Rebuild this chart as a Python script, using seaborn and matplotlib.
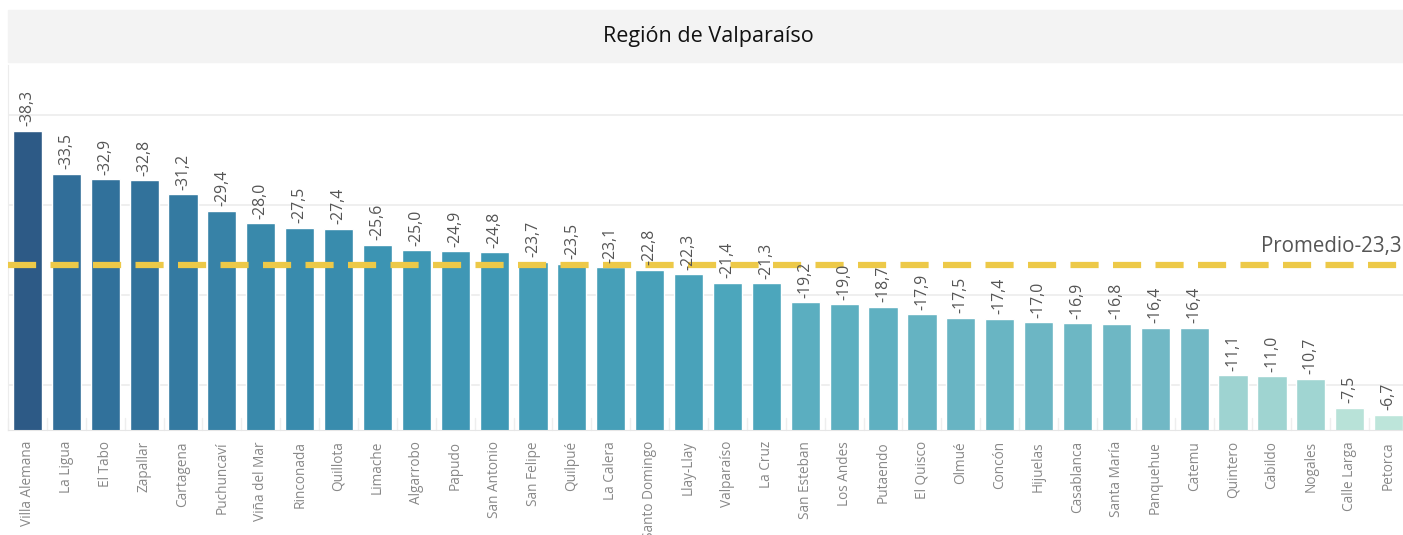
import numpy as np
import pandas as pd
import seaborn as sns
import matplotlib.pyplot as plt
from matplotlib.colors import LinearSegmentedColormap
from matplotlib.patches import Rectangle

comunas = ["Villa Alemana", "La Ligua", "El Tabo", "Zapallar", "Cartagena", "Puchuncaví",
           "Viña del Mar", "Rinconada", "Quillota", "Limache", "Algarrobo", "Papudo",
           "San Antonio", "San Felipe", "Quilpué", "La Calera", "Santo Domingo", "Llay-Llay",
           "Valparaíso", "La Cruz", "San Esteban", "Los Andes", "Putaendo", "El Quisco",
           "Olmué", "Concón", "Hijuelas", "Casablanca", "Santa María", "Panquehue",
           "Catemu", "Quintero", "Cabildo", "Nogales", "Calle Larga", "Petorca"]
valores = [-38.3, -33.5, -32.9, -32.8, -31.2, -29.4, -28.0, -27.5, -27.4, -25.6, -25.0, -24.9,
           -24.8, -23.7, -23.5, -23.1, -22.8, -22.3, -21.4, -21.3, -19.2, -19.0, -18.7, -17.9,
           -17.5, -17.4, -17.0, -16.9, -16.8, -16.4, -16.4, -11.1, -11.0, -10.7, -7.5, -6.7]
promedio = -23.3

df = pd.DataFrame({"comuna": comunas, "valor": valores})

sns.set_style("white")
plt.rcParams["font.family"] = ["Open Sans", "DejaVu Sans"]

# color ramp similar to Tableau blue-teal
cmap = LinearSegmentedColormap.from_list("bt", [
    (0.0, "#bde5da"), (0.14, "#9dd3d1"), (0.30, "#72b9c5"),
    (0.45, "#4ea8bd"), (0.60, "#3c94b3"), (0.84, "#31709a"), (1.0, "#2d5a86")])
vmin, vmax = 6.7, 38.3
colores = [cmap((abs(v) - vmin) / (vmax - vmin)) for v in valores]

fig = plt.figure(figsize=(14.03, 5.35), dpi=100)

# header band
fig.patches.append(Rectangle((8 / 1403, 1 - 62 / 535), 1, 52 / 535,
                             transform=fig.transFigure, color="#f3f3f3", zorder=0))
fig.text(708 / 1403, 1 - 37 / 535, "Región de Valparaíso", ha="center", va="center",
         fontsize=15.5, color="#111111")

ax = fig.add_axes([8 / 1403, 1 - 430 / 535, 1395 / 1403, 365 / 535])
sns.barplot(data=df, x="comuna", y="valor", hue="comuna", palette=colores,
            saturation=1, legend=False, width=0.75, ax=ax, zorder=2)

ax.set_ylim(-5, -45.6)
ax.set_xlim(-0.5, 35.37)
ax.set_yticks([-10, -20, -30, -40])
ax.set_yticklabels([])
ax.tick_params(axis="y", length=0)
ax.yaxis.grid(True, color="#ececec", linewidth=1.2, zorder=0)

for s in ["top", "right"]:
    ax.spines[s].set_visible(False)
ax.spines["left"].set_color("#ececec")
ax.spines["bottom"].set_color("#e6e6e6")

ax.set_xlabel("")
ax.set_ylabel("")
ax.set_xticks(range(len(comunas)))
ax.set_xticklabels(comunas, rotation=90, fontsize=9.8, color="#888888")
ax.tick_params(axis="x", length=0, pad=8)
for i in range(len(comunas) + 1):
    ax.plot([i - 0.5, i - 0.5], [0, 0.032], transform=ax.get_xaxis_transform(),
            color="#eeeeee", lw=1, clip_on=False)

for i, v in enumerate(valores):
    ax.text(i, v - 0.5, f"{v:.1f}".replace(".", ","), rotation=90, ha="center",
            va="bottom", fontsize=11.3, color="#555555", zorder=4)

ax.axhline(promedio, color="#edc948", lw=4.5, dashes=(4.5, 2.3), zorder=3)
ax.text(35.33, promedio - 0.9, "Promedio" + f"{promedio:.1f}".replace(".", ","),
        ha="right", va="bottom", fontsize=14.8, color="#555555", zorder=4)

fig.savefig("out.png", dpi=100)
